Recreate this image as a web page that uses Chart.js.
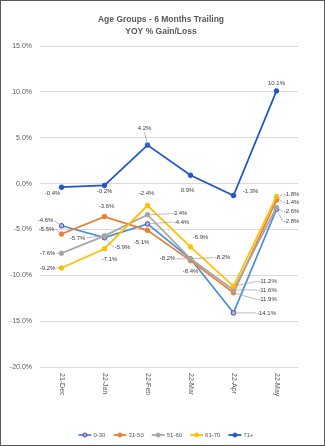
<!DOCTYPE html>
<html>
<head>
<meta charset="utf-8">
<script src="https://cdn.jsdelivr.net/npm/chart.js@4.4.1/dist/chart.umd.min.js"></script>
<style>
  html, body { margin: 0; padding: 0; background: #fff; }
  canvas { display: block; }
</style>
</head>
<body>
<canvas id="c" width="325" height="446"></canvas>
<script>
// chart data
var months = ['21-Dec', '22-Jan', '22-Feb', '22-Mar', '22-Apr', '22-May'];
var groups = ['0-30', '31-50', '51-60', '61-70', '71+'];
var age0_30  = [-4.6, -5.9, -4.4, -8.2, -14.1, -2.8];
var age31_50 = [-5.5, -3.6, -5.1, -8.4, -11.9, -1.8];
var age51_60 = [-7.6, -5.7, -3.4, -8.2, -11.6, -2.6];
var age61_70 = [-9.2, -7.1, -2.4, -6.9, -11.2, -1.4];
var age71    = [-0.4, -0.2, 4.2, 0.9, -1.3, 10.1];
var yTicks = { min: -20, max: 15, step: 5 };

// look
var lineColors   = ['#4a8fd6', '#ed7d31', '#a5a5a5', '#ffc000', '#2356c7'];
var markerBorder = ['#7030a0', '#ed7d31', '#a5a5a5', '#ffc000', '#2356c7'];
var markerFill   = ['#9cc0ec', '#ed7d31', '#a5a5a5', '#ffc000', '#2356c7'];
var textColor = '#595959';
var font = 'Liberation Sans, Arial, sans-serif';

// hand placed data labels, [dx, dy, leader] relative to the point
var labelPos = [
    [[-16, -5, 1], [18, 10, 1], [34, -2, 1], [-23, 0, 1], [33, 0, 1], [15, 12, 1]],
    [[-15, -5, 1], [2, -10, 0], [-6, 12, 0], [0, 11, 0], [34, 7, 1], [15, -6, 1]],
    [[-14, 0, 1], [-27, 2, 1], [32, -1, 1], [32, -1, 1], [34, 0, 1], [15, 4, 1]],
    [[-14, 0, 1], [5, 11, 0], [-1, -12, 0], [10, -10, 0], [34, -5, 1], [15, 6, 1]],
    [[-9, 6, 0], [0, 6, 0], [-3, -17, 1], [-3, 15, 0], [17, -4, 0], [0, -8, 0]]
];

var series = [age0_30, age31_50, age51_60, age61_70, age71];

var datasets = series.map(function(values, i) {
    return {
        label: groups[i],
        data: values,
        borderColor: lineColors[i],
        backgroundColor: lineColors[i],
        borderWidth: 1.75,
        pointRadius: 2.3,
        pointBorderWidth: 1,
        pointBorderColor: markerBorder[i],
        pointBackgroundColor: markerFill[i],
        tension: 0,
        order: series.length - i
    };
});

function pct(v) {
    return v.toFixed(1) + '%';
}

var decorations = {
    id: 'decorations',
    beforeDraw: function(chart) {
        var ctx = chart.ctx;
        ctx.save();
        ctx.fillStyle = '#fff';
        ctx.fillRect(0, 0, chart.width, chart.height);
        ctx.restore();
    },
    afterDatasetsDraw: function(chart) {
        var ctx = chart.ctx;
        ctx.save();
        ctx.font = '6px ' + font;
        ctx.textAlign = 'center';
        ctx.textBaseline = 'middle';
        chart.data.datasets.forEach(function(ds, i) {
            var meta = chart.getDatasetMeta(i);
            meta.data.forEach(function(pt, j) {
                var p = labelPos[i][j];
                var text = pct(ds.data[j]);
                var lx = pt.x + p[0], ly = pt.y + p[1];
                var w = ctx.measureText(text).width;
                if (p[2]) {
                    var ex, ey;
                    if (Math.abs(p[0]) > w / 2 + 2) {
                        ex = lx - Math.sign(p[0]) * (w / 2 + 1);
                        ey = ly;
                    } else {
                        ex = lx;
                        ey = ly - Math.sign(p[1]) * 4;
                    }
                    ctx.strokeStyle = '#a6a6a6';
                    ctx.lineWidth = 0.75;
                    ctx.beginPath();
                    ctx.moveTo(pt.x, pt.y);
                    ctx.lineTo(ex, ey);
                    ctx.stroke();
                }
                ctx.fillStyle = '#404040';
                ctx.fillText(text, lx, ly);
            });
        });
        ctx.restore();
    },
    afterDraw: function(chart) {
        var ctx = chart.ctx;
        var area = chart.chartArea;
        var xs = chart.scales.x;
        ctx.save();

        // title
        ctx.fillStyle = textColor;
        ctx.textAlign = 'center';
        ctx.textBaseline = 'middle';
        ctx.font = 'bold 8.5px ' + font;
        ctx.fillText('Age Groups - 6 Months Trailing', 161, 20);
        ctx.fillText('YOY % Gain/Loss', 161, 32);

        // category labels, turned clockwise
        ctx.font = '7px ' + font;
        ctx.textAlign = 'left';
        months.forEach(function(m, j) {
            ctx.save();
            ctx.translate(xs.getPixelForValue(j), area.bottom + 6);
            ctx.rotate(Math.PI / 2);
            ctx.fillText(m, 0, 0);
            ctx.restore();
        });

        // legend
        ctx.font = '6px ' + font;
        ctx.textBaseline = 'middle';
        var sym = 13, gap = 2, itemGap = 8, total = 0;
        groups.forEach(function(g) {
            total += sym + gap + ctx.measureText(g).width;
        });
        total += itemGap * (groups.length - 1);
        var x = 166 - total / 2, y = 435;
        groups.forEach(function(g, i) {
            ctx.strokeStyle = lineColors[i];
            ctx.lineWidth = 1.75;
            ctx.beginPath();
            ctx.moveTo(x, y);
            ctx.lineTo(x + sym, y);
            ctx.stroke();
            ctx.beginPath();
            ctx.arc(x + sym / 2, y, 2, 0, Math.PI * 2);
            ctx.fillStyle = markerFill[i];
            ctx.fill();
            ctx.strokeStyle = markerBorder[i];
            ctx.lineWidth = 1;
            ctx.stroke();
            ctx.fillStyle = textColor;
            ctx.fillText(g, x + sym + gap, y);
            x += sym + gap + ctx.measureText(g).width + itemGap;
        });

        // outer frame
        ctx.strokeStyle = '#595959';
        ctx.lineWidth = 1;
        ctx.strokeRect(0.5, 0.5, chart.width - 1, chart.height - 1);
        ctx.restore();
    }
};

new Chart(document.getElementById('c'), {
    type: 'line',
    data: { labels: months, datasets: datasets },
    options: {
        responsive: false,
        animation: false,
        devicePixelRatio: 1,
        layout: { padding: { top: 46, bottom: 71, left: 0, right: 27 } },
        plugins: {
            legend: { display: false },
            title: { display: false },
            tooltip: { enabled: false }
        },
        scales: {
            x: {
                offset: true,
                grid: { display: false },
                border: { display: false },
                ticks: { display: false }
            },
            y: {
                min: yTicks.min,
                max: yTicks.max,
                afterFit: function(scale) { scale.width = 40; },
                grid: { color: '#d9d9d9', drawTicks: false },
                border: { display: false },
                ticks: {
                    stepSize: yTicks.step,
                    padding: 8,
                    color: textColor,
                    font: { family: font, size: 7 },
                    callback: function(v) { return pct(v); }
                }
            }
        }
    },
    plugins: [decorations]
});
</script>
</body>
</html>
